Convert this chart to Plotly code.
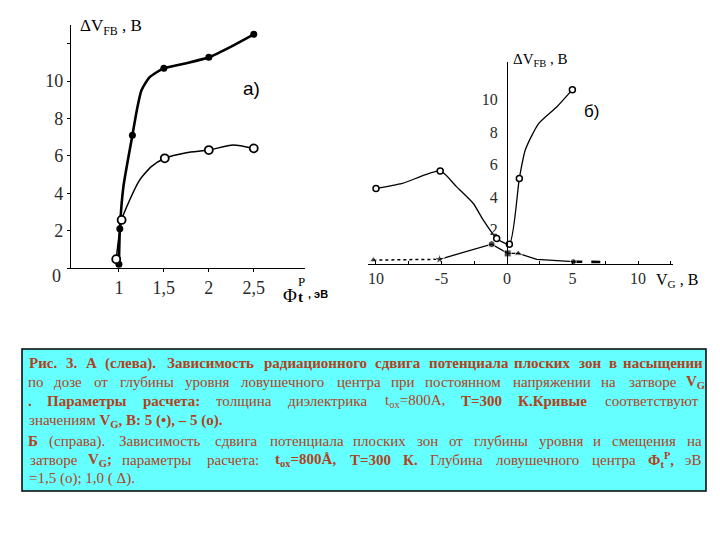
import re
import plotly.graph_objects as go

W, H = 720, 540
def px(x): return x / W
def py(y): return 1 - y / H

SERIF = "Liberation Serif"
SANS = "Liberation Sans"

# ---------- Data: left chart (a) ----------
a_x_ticks = [1, 1.5, 2, 2.5]
a_x_ticktext = ["1", "1,5", "2", "2,5"]
a_y_ticks = [0, 2, 4, 6, 8, 10]
a_y_ticktext = ["0", "2", "4", "6", "8", "10"]

# VG = 5 (filled)
a_fill_x = [1.0, 1.01, 1.05, 1.15, 1.2, 1.25, 1.34, 1.5, 1.75, 2.0, 2.27, 2.5]
a_fill_y = [0.2, 2.0, 4.35, 7.1, 8.45, 9.5, 10.2, 10.68, 10.95, 11.27, 11.9, 12.5]
a_fill_mx = [1.0, 1.01, 1.15, 1.5, 2.0, 2.5]
a_fill_my = [0.2, 2.1, 7.1, 10.68, 11.27, 12.5]

# VG = -5 (open)
a_open_x = [0.97, 1.03, 1.12, 1.23, 1.36, 1.51, 1.75, 2.0, 2.27, 2.5]
a_open_y = [0.47, 2.57, 3.64, 4.7, 5.42, 5.87, 6.17, 6.31, 6.58, 6.4]
a_open_mx = [0.97, 1.03, 1.51, 2.0, 2.5]
a_open_my = [0.47, 2.57, 5.87, 6.31, 6.4]

# ---------- Data: right chart (b) ----------
b_x_ticks = [-10, -5, 0, 5, 10]
b_x_ticktext = ["10", "-5", "0", "5", "10"]
b_y_ticks = [2, 4, 6, 8, 10]
b_y_ticktext = ["2", "4", "6", "8", "10"]

# Phi = 1.5 (open circles)
b_open_x = [-10.0, -8.0, -5.1, -3.84, -2.57, -1.81, -0.79, 0.18, 0.94, 1.4, 2.4, 3.79, 4.99]
b_open_y = [4.52, 4.83, 5.6, 4.62, 3.6, 2.58, 1.45, 1.1, 5.13, 6.9, 8.5, 9.53, 10.6]
b_open_mx = [-10.0, -5.1, -0.79, 0.18, 0.94, 4.99]
b_open_my = [4.52, 5.6, 1.45, 1.1, 5.13, 10.6]

# Phi = 1.0 (triangles / filled)
b_tri_dot_x = [-10.2, -5.15]
b_tri_dot_y = [0.12, 0.17]
b_tri_x = [-5.15, -3.59, -1.17, 0.05, 0.86, 2.27, 5.06]
b_tri_y = [0.17, 0.53, 1.1, 0.53, 0.53, 0.17, 0.02]
b_tri_dash_x = [5.06, 7.6]
b_tri_dash_y = [0.02, 0.0]

# ---------- Caption text (lines, words) ----------
cap_lines = [
    "<b>Рис. 3. А (слева). Зависимость радиационного сдвига потенциала плоских зон в насыщении</b>",
    "по дозе от глубины уровня ловушечного центра при постоянном напряжении на затворе <b>V<sub>G</sub></b>",
    "<b>. Параметры расчета:</b> толщина диэлектрика t<sub>ox</sub>=800А, <b>Т=300 К.Кривые</b> соответствуют",
    "значениям <b>V<sub>G</sub>, В: 5 (•), – 5 (о).</b>",
    "<b>Б</b> (справа). Зависимость сдвига потенциала плоских зон от глубины уровня и смещения на",
    "затворе <b>V<sub>G</sub>;</b> параметры расчета: <b>t<sub>ox</sub>=800Å, Т=300 К.</b> Глубина ловушечного центра <b>Φ<sub>t</sub><sup>P</sup>,</b> эВ",
    "=1,5 (о); 1,0 ( Δ).",
]
cap_justify = [True, True, True, False, True, True, False]
cap_y = [363, 382, 401, 421, 441, 460, 478]

fig = go.Figure()

# Left chart traces
fig.add_trace(go.Scatter(x=a_fill_x, y=a_fill_y, mode="lines", line=dict(color="black", width=2.6, shape="spline", smoothing=0.6),
                         xaxis="x", yaxis="y", showlegend=False, hoverinfo="skip"))
fig.add_trace(go.Scatter(x=a_fill_mx, y=a_fill_my, mode="markers", marker=dict(color="black", size=7, symbol="circle"),
                         xaxis="x", yaxis="y", showlegend=False))
fig.add_trace(go.Scatter(x=a_open_x, y=a_open_y, mode="lines", line=dict(color="black", width=1.5, shape="spline", smoothing=0.6),
                         xaxis="x", yaxis="y", showlegend=False, hoverinfo="skip"))
fig.add_trace(go.Scatter(x=a_open_mx, y=a_open_my, mode="markers",
                         marker=dict(color="white", size=8, symbol="circle", line=dict(color="black", width=1.8)),
                         xaxis="x", yaxis="y", showlegend=False))

# Right chart traces
fig.add_trace(go.Scatter(x=b_open_x, y=b_open_y, mode="lines", line=dict(color="black", width=1.3, shape="spline", smoothing=0.6),
                         xaxis="x2", yaxis="y2", showlegend=False, hoverinfo="skip"))
fig.add_trace(go.Scatter(x=b_open_mx, y=b_open_my, mode="markers",
                         marker=dict(color="white", size=6, symbol="circle", line=dict(color="black", width=1.5)),
                         xaxis="x2", yaxis="y2", showlegend=False))
fig.add_trace(go.Scatter(x=b_tri_dot_x, y=b_tri_dot_y, mode="lines", line=dict(color="black", width=1.5, dash="dot"),
                         xaxis="x2", yaxis="y2", showlegend=False))
fig.add_trace(go.Scatter(x=b_tri_x, y=b_tri_y, mode="lines", line=dict(color="black", width=1.3),
                         xaxis="x2", yaxis="y2", showlegend=False))
fig.add_trace(go.Scatter(x=b_tri_dash_x, y=b_tri_dash_y, mode="lines", line=dict(color="black", width=2.6, dash="dash"),
                         xaxis="x2", yaxis="y2", showlegend=False))
fig.add_trace(go.Scatter(x=[b_tri_dot_x[0], b_tri_x[0], b_tri_x[2], b_tri_x[3], b_tri_x[4], b_tri_x[6]],
                         y=[b_tri_dot_y[0], b_tri_y[0], b_tri_y[2], b_tri_y[3], b_tri_y[4], b_tri_y[6]],
                         mode="markers",
                         marker=dict(color="black", size=[7, 8, 7, 7, 7, 6],
                                     symbol=["triangle-up", "star", "circle", "square", "triangle-up", "circle"]),
                         xaxis="x2", yaxis="y2", showlegend=False))

tickfont_a = dict(family=SERIF, size=18, color="#2a2a2a")
tickfont_b = dict(family=SERIF, size=16, color="#2a2a2a")

fig.update_layout(
    width=W, height=H, margin=dict(l=0, r=0, t=0, b=0),
    paper_bgcolor="white", plot_bgcolor="rgba(0,0,0,0)",
    font=dict(family=SERIF),
    xaxis=dict(domain=[px(71), px(305)], range=[0.467, 3.07], anchor="y",
               showline=True, linecolor="black", linewidth=1.2, showgrid=False, zeroline=False,
               tickvals=a_x_ticks, ticktext=a_x_ticktext, ticks="outside", ticklen=3, tickcolor="black",
               tickfont=tickfont_a),
    yaxis=dict(domain=[py(268), py(25)], range=[0, 13], anchor="x",
               showline=True, linecolor="black", linewidth=1.2, showgrid=False, zeroline=False,
               tickvals=a_y_ticks[1:], ticktext=a_y_ticktext[1:], ticks="outside", ticklen=3, tickcolor="black",
               tickfont=tickfont_a,
               minor=dict(dtick=2, ticks="outside", ticklen=3, tickcolor="black")),
    xaxis2=dict(domain=[px(368), px(673)], range=[-10.61, 12.67], anchor="y2",
                showline=True, linecolor="black", linewidth=1.2, showgrid=False, zeroline=False,
                tickvals=b_x_ticks, ticktext=b_x_ticktext, ticks="", tickfont=tickfont_b,
                minor=dict(dtick=2.5, ticks="inside", ticklen=3, tickcolor="black")),
    yaxis2=dict(domain=[py(264), py(62)], range=[-0.12, 12.3], anchor="free", position=px(507),
                showline=True, linecolor="black", linewidth=1.2, showgrid=False, zeroline=False,
                tickvals=b_y_ticks, ticktext=b_y_ticktext, ticks="", tickfont=tickfont_b,
                ticklabelstandoff=6),
)

ann = []
def A(x, y, text, size, family=SERIF, color="black", xanchor="left", yanchor="middle"):
    ann.append(dict(xref="paper", yref="paper", x=px(x), y=py(y), text=text, showarrow=False,
                    xanchor=xanchor, yanchor=yanchor, borderpad=0,
                    font=dict(family=family, size=size, color=color)))

# left titles
A(56, 276, a_y_ticktext[0], 18, color="#2a2a2a", xanchor="center")
A(79, 27, "ΔV<sub>FB</sub> , B", 17)
A(242, 88, "a)", 19, family=SANS)
A(282, 295, "Φ", 19)
A(297, 281, "P", 13)
A(297, 297, "<b>t</b>", 15)
A(307, 294, "<b>, эВ</b>", 11, family=SANS)
# right titles
A(512, 60, "ΔV<sub>FB</sub> , B", 15)
A(583, 112, "б)", 17, family=SANS)
A(655, 280, "V<sub>G</sub> , B", 16)

# ---------- caption with approximate justification ----------
CW = {}
for ch in "абвгдеёзийклнопрстуцчьэя": CW[ch] = 0.5
for ch in "жмфшщыюъ": CW[ch] = 0.72
for ch in "АБВГДЕЁЖЗИЙКЛМНОПРСТУФХЦЧШЩЪЫЬЭЮЯΦΔÅ": CW[ch] = 0.68
for ch in ".,:;'!|()[]•": CW[ch] = 0.28
for ch in "0123456789": CW[ch] = 0.5
for ch in "=–": CW[ch] = 0.56
def plain_width(s, size, bold):
    w = 0.0
    for ch in s:
        w += CW.get(ch, 0.48)
    return w * size * (1.05 if bold else 1.0)

def word_width(word_html, size, bold_ctx):
    w = 0.0
    bold = bold_ctx
    small = False
    for tok in re.split(r"(<[^>]+>)", word_html):
        if not tok:
            continue
        if tok.startswith("<"):
            t = tok.lower()
            if t == "<b>": bold = True
            elif t == "</b>": bold = False
            elif t in ("<sub>", "<sup>"): small = True
            elif t in ("</sub>", "</sup>"): small = False
            continue
        w += plain_width(tok, size * (0.7 if small else 1.0), bold)
    return w, bold

red = "#B2421C"
CAP_SIZE = 15
LX, RX = 28, 702
for line, just, y in zip(cap_lines, cap_justify, cap_y):
    words = line.split(" ")
    items = []
    bold = False
    for w in words:
        start_bold = bold
        ww, bold = word_width(w, CAP_SIZE, bold)
        html = w
        if start_bold and not html.startswith("<b>"):
            html = "<b>" + html
        if bold and not html.endswith("</b>"):
            html = html + "</b>"
        items.append((html, ww))
    if not just:
        A(LX, y, line, CAP_SIZE, color=red)
        continue
    total = sum(w for _, w in items)
    gap = (RX - LX - total) / (len(items) - 1)
    x = LX
    for html, ww in items:
        A(x + ww / 2, y, html, CAP_SIZE, color=red, xanchor="center")
        x += ww + gap

fig.update_layout(annotations=ann)
fig.update_layout(shapes=[dict(type="rect", xref="paper", yref="paper", x0=px(22), x1=px(706), y0=py(491), y1=py(349),
                               fillcolor="#66FFFF", line=dict(color="black", width=1.5), layer="below")])
fig.write_html("out.html", config={"displayModeBar": False},
               post_script="document.body.style.margin='0px';document.body.style.padding='0px';")
